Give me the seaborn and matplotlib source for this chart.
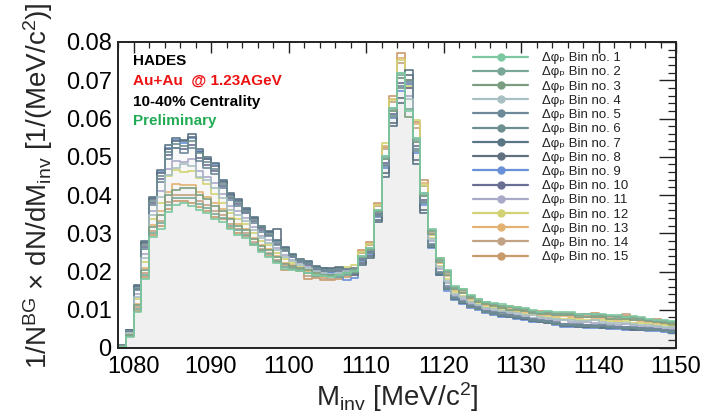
import numpy as np
import pandas as pd
import matplotlib
matplotlib.use("Agg")
import matplotlib.pyplot as plt
from matplotlib.lines import Line2D
from matplotlib.ticker import MultipleLocator
import seaborn as sns

# ---------------- data ----------------
m_low, m_high = 1078, 1150          # invariant-mass range, 1 MeV bins
bin_width = 1

s1 = [.0002, .0030, .0095, .0180, .0290, .0310, .0355, .0375, .0378, .0370, .0360, .0352,
      .0338, .0330, .0310, .0296, .0288, .0268, .0250, .0238, .0222, .0207, .0205, .0200,
      .0195, .0190, .0188, .0185, .0190, .0195, .0200, .0240, .0261, .0360, .0501, .0628,
      .0719, .0620, .0550, .0405, .0310, .0236, .0204, .0162, .0155, .0139, .0128, .0121,
      .0118, .0116, .0110, .0107, .0104, .0100, .0095, .0096, .0094, .0094, .0093, .0090,
      .0089, .0090, .0089, .0086, .0085, .0082, .0084, .0080, .0076, .0074, .0073, .0071]
s2 = [.0003, .0032, .0102, .0190, .0301, .0326, .0373, .0393, .0392, .0392, .0376, .0367,
      .0350, .0341, .0320, .0309, .0296, .0273, .0257, .0245, .0228, .0211, .0209, .0203,
      .0197, .0188, .0190, .0188, .0186, .0190, .0198, .0238, .0259, .0358, .0497, .0624,
      .0713, .0625, .0544, .0401, .0305, .0231, .0199, .0158, .0151, .0136, .0125, .0121,
      .0115, .0110, .0107, .0104, .0101, .0095, .0092, .0093, .0088, .0090, .0089, .0086,
      .0088, .0086, .0085, .0084, .0081, .0080, .0079, .0077, .0073, .0071, .0070, .0068]
s3 = [.0004, .0034, .0113, .0205, .0316, .0349, .0399, .0412, .0418, .0418, .0400, .0389,
      .0372, .0358, .0338, .0320, .0308, .0285, .0267, .0255, .0237, .0220, .0215, .0208,
      .0203, .0195, .0192, .0190, .0192, .0196, .0203, .0237, .0257, .0355, .0493, .0620,
      .0706, .0605, .0539, .0397, .0298, .0225, .0191, .0153, .0145, .0131, .0121, .0114,
      .0110, .0105, .0100, .0100, .0096, .0091, .0088, .0088, .0086, .0085, .0087, .0081,
      .0082, .0081, .0080, .0077, .0076, .0075, .0073, .0072, .0070, .0067, .0065, .0063]
s4 = [.0005, .0039, .0134, .0235, .0348, .0396, .0451, .0471, .0480, .0475, .0448, .0440,
      .0417, .0391, .0362, .0348, .0331, .0308, .0287, .0275, .0255, .0238, .0227, .0218,
      .0210, .0200, .0196, .0194, .0197, .0200, .0205, .0240, .0261, .0360, .0501, .0628,
      .0719, .0650, .0550, .0405, .0284, .0211, .0174, .0142, .0133, .0120, .0113, .0105,
      .0101, .0096, .0094, .0091, .0087, .0085, .0080, .0079, .0075, .0073, .0072, .0070,
      .0071, .0072, .0068, .0066, .0065, .0066, .0063, .0061, .0059, .0058, .0056, .0054]
s5 = [.0007, .0044, .0151, .0260, .0374, .0435, .0495, .0524, .0511, .0522, .0488, .0470,
      .0454, .0418, .0386, .0371, .0356, .0327, .0304, .0292, .0270, .0253, .0237, .0226,
      .0220, .0207, .0202, .0200, .0203, .0205, .0208, .0231, .0250, .0348, .0479, .0608,
      .0686, .0695, .0521, .0383, .0272, .0199, .0161, .0133, .0123, .0112, .0106, .0098,
      .0093, .0091, .0086, .0083, .0079, .0075, .0073, .0071, .0067, .0064, .0063, .0064,
      .0061, .0060, .0059, .0057, .0056, .0056, .0054, .0053, .0051, .0050, .0048, .0046]
s6 = [.0007, .0045, .0158, .0270, .0385, .0450, .0513, .0533, .0528, .0541, .0510, .0485,
      .0469, .0429, .0396, .0381, .0358, .0335, .0318, .0298, .0276, .0259, .0241, .0229,
      .0223, .0210, .0205, .0203, .0206, .0200, .0195, .0229, .0248, .0345, .0475, .0604,
      .0680, .0700, .0515, .0379, .0267, .0195, .0155, .0130, .0119, .0108, .0103, .0095,
      .0090, .0085, .0083, .0080, .0079, .0072, .0070, .0068, .0063, .0060, .0059, .0058,
      .0057, .0056, .0058, .0054, .0053, .0052, .0051, .0049, .0048, .0047, .0045, .0043]
s7 = [.0008, .0047, .0165, .0280, .0395, .0466, .0530, .0550, .0540, .0560, .0520, .0500,
      .0484, .0440, .0405, .0390, .0366, .0343, .0318, .0305, .0282, .0265, .0245, .0232,
      .0228, .0215, .0208, .0206, .0210, .0206, .0200, .0217, .0236, .0330, .0448, .0580,
      .0640, .0728, .0480, .0353, .0264, .0192, .0153, .0128, .0117, .0107, .0101, .0093,
      .0089, .0084, .0082, .0079, .0075, .0070, .0068, .0067, .0062, .0058, .0057, .0056,
      .0055, .0054, .0053, .0052, .0051, .0050, .0049, .0048, .0047, .0046, .0044, .0042]
s8 = [.0008, .0046, .0161, .0275, .0390, .0458, .0521, .0541, .0545, .0551, .0512, .0493,
      .0477, .0435, .0400, .0385, .0362, .0339, .0315, .0302, .0310, .0262, .0243, .0230,
      .0222, .0211, .0210, .0208, .0212, .0203, .0190, .0221, .0240, .0335, .0457, .0588,
      .0653, .0715, .0492, .0362, .0267, .0195, .0155, .0130, .0119, .0108, .0103, .0095,
      .0088, .0085, .0083, .0080, .0076, .0072, .0070, .0066, .0063, .0060, .0059, .0058,
      .0054, .0056, .0055, .0054, .0053, .0052, .0048, .0049, .0048, .0047, .0045, .0041]
s9 = [.0008, .0046, .0162, .0276, .0392, .0460, .0524, .0545, .0537, .0548, .0515, .0495,
      .0480, .0437, .0402, .0388, .0364, .0341, .0316, .0303, .0279, .0262, .0243, .0230,
      .0225, .0212, .0203, .0196, .0185, .0178, .0183, .0227, .0246, .0343, .0470, .0600,
      .0673, .0690, .0509, .0375, .0262, .0190, .0150, .0126, .0115, .0105, .0100, .0092,
      .0087, .0082, .0080, .0077, .0073, .0069, .0067, .0065, .0060, .0056, .0055, .0054,
      .0053, .0052, .0051, .0050, .0049, .0048, .0047, .0046, .0045, .0044, .0042, .0040]
s10 = [.0007, .0044, .0155, .0265, .0379, .0443, .0504, .0524, .0520, .0532, .0496, .0478,
       .0462, .0424, .0391, .0376, .0354, .0331, .0308, .0295, .0273, .0256, .0239, .0227,
       .0218, .0205, .0200, .0199, .0200, .0198, .0195, .0233, .0252, .0350, .0484, .0612,
       .0693, .0680, .0527, .0388, .0269, .0197, .0158, .0131, .0121, .0110, .0104, .0096,
       .0092, .0087, .0085, .0082, .0078, .0073, .0071, .0070, .0065, .0062, .0061, .0059,
       .0059, .0058, .0057, .0055, .0054, .0054, .0052, .0051, .0050, .0049, .0047, .0045]
s11 = [.0006, .0041, .0140, .0245, .0358, .0411, .0469, .0489, .0486, .0494, .0464, .0448,
       .0432, .0402, .0372, .0357, .0339, .0316, .0294, .0282, .0261, .0244, .0231, .0221,
       .0212, .0202, .0197, .0195, .0196, .0193, .0192, .0237, .0257, .0355, .0493, .0620,
       .0706, .0660, .0539, .0397, .0279, .0206, .0169, .0139, .0129, .0117, .0110, .0102,
       .0098, .0093, .0091, .0085, .0084, .0079, .0077, .0076, .0072, .0072, .0068, .0067,
       .0067, .0065, .0064, .0063, .0059, .0062, .0059, .0058, .0056, .0055, .0053, .0051]
s12 = [.0005, .0038, .0127, .0225, .0337, .0380, .0450, .0465, .0460, .0462, .0445, .0430,
       .0402, .0380, .0353, .0338, .0323, .0300, .0281, .0268, .0249, .0232, .0223, .0214,
       .0205, .0198, .0194, .0192, .0205, .0212, .0218, .0250, .0271, .0373, .0537, .0648,
       .0752, .0685, .0597, .0427, .0288, .0215, .0180, .0146, .0137, .0124, .0115, .0108,
       .0104, .0099, .0097, .0094, .0090, .0085, .0082, .0082, .0079, .0077, .0076, .0074,
       .0074, .0073, .0072, .0070, .0069, .0070, .0066, .0065, .0062, .0061, .0059, .0057]
s13 = [.0004, .0035, .0116, .0210, .0322, .0357, .0408, .0428, .0426, .0427, .0408, .0396,
       .0380, .0363, .0339, .0324, .0311, .0288, .0270, .0258, .0240, .0223, .0217, .0210,
       .0198, .0193, .0186, .0187, .0190, .0200, .0210, .0252, .0273, .0375, .0528, .0652,
       .0759, .0690, .0585, .0431, .0296, .0222, .0188, .0151, .0143, .0129, .0120, .0112,
       .0109, .0104, .0101, .0098, .0095, .0089, .0087, .0087, .0084, .0083, .0082, .0079,
       .0080, .0079, .0078, .0075, .0074, .0076, .0072, .0070, .0067, .0065, .0064, .0062]
s14 = [.0003, .0033, .0106, .0195, .0306, .0333, .0381, .0401, .0400, .0399, .0384, .0374,
       .0357, .0347, .0324, .0310, .0300, .0277, .0260, .0248, .0231, .0214, .0211, .0205,
       .0188, .0186, .0182, .0181, .0184, .0192, .0205, .0248, .0269, .0370, .0519, .0644,
       .0746, .0680, .0574, .0423, .0303, .0229, .0196, .0157, .0149, .0134, .0124, .0117,
       .0113, .0108, .0106, .0103, .0099, .0094, .0091, .0091, .0089, .0088, .0087, .0085,
       .0086, .0084, .0083, .0081, .0080, .0088, .0077, .0075, .0071, .0070, .0068, .0066]
s15 = [.0002, .0031, .0098, .0185, .0295, .0318, .0364, .0384, .0384, .0380, .0368, .0359,
       .0342, .0336, .0315, .0301, .0292, .0269, .0253, .0241, .0225, .0205, .0207, .0202,
       .0180, .0183, .0178, .0177, .0180, .0185, .0202, .0256, .0277, .0380, .0525, .0660,
       .0772, .0700, .0590, .0440, .0308, .0234, .0201, .0160, .0153, .0137, .0127, .0120,
       .0116, .0111, .0109, .0106, .0102, .0097, .0097, .0094, .0092, .0092, .0091, .0088,
       .0090, .0091, .0087, .0084, .0083, .0084, .0080, .0078, .0074, .0075, .0071, .0069]

series_values = [s1, s2, s3, s4, s5, s6, s7, s8, s9, s10, s11, s12, s13, s14, s15]
series_names = [f"Bin no. {i}" for i in range(1, 16)]
series_colors = ["#7cc8a0", "#7aa896", "#7c9e80", "#a9c0c2", "#6e8a9a",
                 "#6e8f8f", "#5a7585", "#607080", "#6a90d8", "#6a6e92",
                 "#a9a9c8", "#d2d274", "#e2b272", "#c2a284", "#c89a6c"]

y_ticks = [0, 0.01, 0.02, 0.03, 0.04, 0.05, 0.06, 0.07, 0.08]
y_tick_labels = ["0", "0.01", "0.02", "0.03", "0.04", "0.05", "0.06", "0.07", "0.08"]
x_ticks = [1080, 1090, 1100, 1110, 1120, 1130, 1140, 1150]

# ---------------- build table ----------------
edges = [float(e) for e in np.arange(m_low, m_high + bin_width, bin_width)]
centers = [e + bin_width / 2 for e in edges[:-1]]
rows = []
for name, vals in zip(series_names, series_values):
    for c, v in zip(centers, vals):
        rows.append((name, c, v))
df = pd.DataFrame(rows, columns=["series", "minv", "w"])
palette = dict(zip(series_names, series_colors))
fill_palette = {n: "#a8d6a8" for n in series_names}

# ---------------- style ----------------
sns.set_theme(style="white")
plt.rcParams["font.family"] = ["Liberation Sans", "DejaVu Sans"]
plt.rcParams["mathtext.fontset"] = "custom"
plt.rcParams["mathtext.rm"] = "Liberation Sans"
plt.rcParams["mathtext.it"] = "Liberation Sans:italic"
plt.rcParams["mathtext.bf"] = "Liberation Sans:bold"

fig = plt.figure(figsize=(7.07, 4.17), dpi=100)
ax = fig.add_axes([118 / 707, 1 - 348 / 417, (676 - 118) / 707, (348 - 42) / 417])

# very faint fill + step outlines
sns.histplot(data=df, x="minv", weights="w", hue="series", hue_order=series_names,
             bins=edges, element="step", fill=True, alpha=0.009, linewidth=0,
             palette=fill_palette, legend=False, ax=ax)
sns.histplot(data=df, x="minv", weights="w", hue="series", hue_order=series_names,
             bins=edges, element="step", fill=False, linewidth=1.2,
             palette=palette, legend=False, ax=ax)

ax.set_xlim(m_low, m_high)
ax.set_ylim(0, 0.08)
ax.set_xticks(x_ticks)
ax.set_xticklabels([str(t) for t in x_ticks])
ax.set_yticks(y_ticks)
ax.set_yticklabels(y_tick_labels)
ax.xaxis.set_minor_locator(MultipleLocator(2))
ax.yaxis.set_minor_locator(MultipleLocator(0.002))
ax.tick_params(axis="both", which="both", direction="in", top=True, right=True,
               colors="#222222", labelcolor="black")
ax.tick_params(axis="y", which="major", length=12, width=1.0, labelsize=17, pad=4.5)
ax.tick_params(axis="y", which="minor", length=6, width=0.9)
ax.tick_params(axis="x", which="major", length=8, width=1.0, labelsize=17, pad=5.5)
ax.tick_params(axis="x", which="minor", length=4, width=0.9)
for sp in ax.spines.values():
    sp.set_color("#222222")
    sp.set_linewidth(1.4)

ax.set_xlabel(r"M$_{\mathrm{inv}}$ [MeV/c$^{2}$]", fontsize=20)
ax.xaxis.set_label_coords(0.5, -0.105)
ax.set_ylabel(r"1/N$^{\mathrm{BG}}$ $\times$ dN/dM$_{\mathrm{inv}}$ [1/(MeV/c$^{2}$)]", fontsize=20)
ax.yaxis.set_label_coords(-0.113, 0.53)

# annotations
tx = (133 - 118) / 558
ax.text(tx, 0.925, "HADES", transform=ax.transAxes, fontsize=11, fontweight="bold",
        color="black", va="baseline")
ax.text(tx, 0.862, "Au+Au  @ 1.23AGeV", transform=ax.transAxes, fontsize=11,
        fontweight="bold", color="#ee1111", va="baseline")
ax.text(tx, 0.792, "10-40% Centrality", transform=ax.transAxes, fontsize=11,
        fontweight="bold", color="black", va="baseline")
ax.text(tx, 0.730, "Preliminary", transform=ax.transAxes, fontsize=11,
        fontweight="bold", color="#22aa55", va="baseline")

# legend
handles = [Line2D([0], [0], color=c, lw=1.6, marker="o", markersize=5,
                  markerfacecolor=c, markeredgecolor=c) for c in series_colors]
labels = ["Δφ\u209a " + n for n in series_names]
leg = ax.legend(handles, labels, loc="upper left", frameon=False,
                bbox_to_anchor=(473 / 707, 1 - 52 / 417), bbox_transform=fig.transFigure,
                fontsize=9.5, handlelength=4.2, handletextpad=1.05, labelspacing=0.15,
                borderpad=0, borderaxespad=0)
for t in leg.get_texts():
    t.set_color("#222222")

fig.savefig("out.png", dpi=100, facecolor="white")
